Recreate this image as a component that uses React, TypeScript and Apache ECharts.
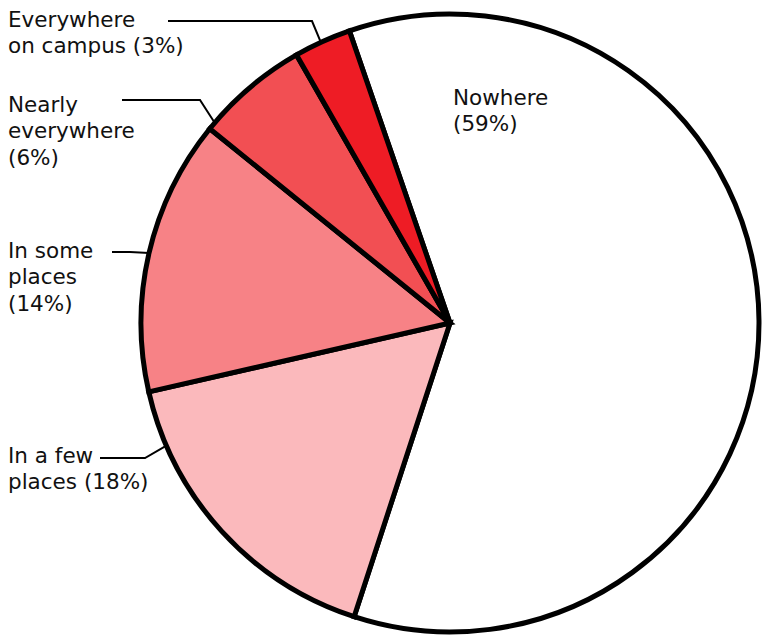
import React, { useEffect, useRef } from 'react';
import * as echarts from 'echarts';

// ---- data ----
const categories = ['Nowhere', 'In a few places', 'In some places', 'Nearly everywhere', 'Everywhere on campus'];
const values = [60.3, 16.4, 14.4, 5.9, 3.0];
// percentages as printed on the labels
const percentLabels = ['59%', '18%', '14%', '6%', '3%'];
// label wording with its line breaks
const labelBodies = ['Nowhere\n', 'In a few\nplaces ', 'In some\nplaces\n', 'Nearly\neverywhere\n', 'Everywhere\non campus '];
const colors = ['#FFFFFF', '#FBB9BC', '#F78286', '#F24F53', '#EE1C25'];

// ---- layout ----
const CX = 450;
const CY = 323;
const R = 309;
const labelBoxes: number[][] = [[453, 84], [8, 442], [8, 237], [8, 91], [8, 6]];
const leaderStart: (number[] | null)[] = [null, [100, 458], [112, 252], [122, 100], [168, 21]];
const leaderElbow: (number[] | null)[] = [null, [145, 458], [130, 252], [200, 100], [312, 21]];
const leaderAnchorDeg: (number | null)[] = [null, 246.6, 283.1, 310.4, 335.3];

function edgePoint(deg: number): number[] {
  const t = (deg * Math.PI) / 180;
  return [CX + R * Math.sin(t), CY - R * Math.cos(t)];
}

export default function App() {
  const ref = useRef<HTMLDivElement>(null);
  useEffect(() => {
    if (!ref.current) return;
    const chart = echarts.init(ref.current, null, { renderer: 'svg' });
    const data = categories.map((name, i) => ({
      name,
      value: values[i],
      itemStyle: { color: colors[i] },
      labelLine: { show: i !== 0 },
    }));
    chart.setOption({
      animation: false,
      series: [
        {
          type: 'pie',
          center: [CX, CY],
          radius: R,
          startAngle: 109,
          clockwise: true,
          avoidLabelOverlap: false,
          silent: true,
          emphasis: { disabled: true },
          itemStyle: {
            borderColor: '#000',
            borderWidth: 5,
            borderJoin: 'miter',
            borderMiterLimit: 10,
          },
          label: {
            show: true,
            position: 'outside',
            formatter: (p: any) => labelBodies[p.dataIndex] + '(' + percentLabels[p.dataIndex] + ')',
            fontFamily: 'DejaVu Sans',
            fontSize: 21.5,
            lineHeight: 26.5,
            color: '#111',
            align: 'left',
          },
          labelLine: {
            show: true,
            length: 10,
            length2: 10,
            lineStyle: { color: '#000', width: 2 },
          },
          labelLayout: (params: any) => {
            const i = params.dataIndex;
            const [x, y] = labelBoxes[i];
            const res: any = { x, y, align: 'left', verticalAlign: 'top' };
            const s = leaderStart[i];
            const e = leaderElbow[i];
            const a = leaderAnchorDeg[i];
            if (s && e && a !== null) {
              res.labelLinePoints = [s, e, edgePoint(a)];
            }
            return res;
          },
          data,
        },
      ],
    });
    return () => chart.dispose();
  }, []);
  return (
    <div
      ref={ref}
      style={{ position: 'fixed', left: 0, top: 0, width: 762, height: 641, background: '#fff' }}
    />
  );
}
